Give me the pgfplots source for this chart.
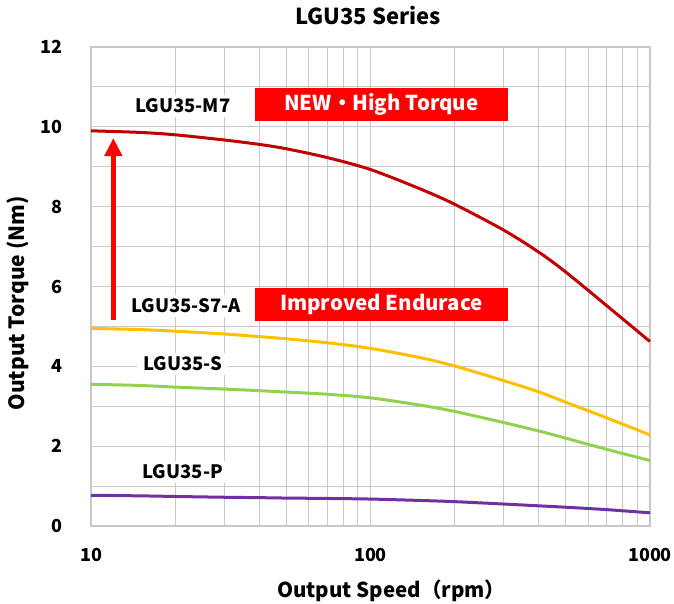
\documentclass[border=0pt]{standalone}
\usepackage{pgfplots}
\pgfplotsset{compat=1.18}
\usepackage{fontspec}
\setmainfont{Noto Sans CJK JP}
\usetikzlibrary{arrows.meta}
\definecolor{cM}{RGB}{192,0,0}
\definecolor{cS7}{RGB}{255,192,0}
\definecolor{cS}{RGB}{146,208,80}
\definecolor{cP}{RGB}{112,48,160}
\definecolor{gridc}{RGB}{200,200,200}
\begin{document}
\begin{tikzpicture}
\useasboundingbox (-91pt,-78pt) rectangle (583pt,526pt);
\begin{axis}[
  at={(0pt,0pt)}, anchor=south west,
  scale only axis, width=559pt, height=479pt,
  xmode=log, xmin=10, xmax=1000, ymin=0, ymax=12,
  xtick={10,100,1000}, xticklabels={10,100,1000},
  ytick={0,2,...,12}, minor y tick num=1,
  grid=both,
  major grid style={gridc, line width=1pt},
  minor grid style={gridc, line width=1pt},
  axis line style={gridc, line width=1.5pt},
  major tick length=0pt, minor tick length=0pt,
  /pgf/number format/assume math mode=true,
  ticklabel style={font=\bfseries\fontsize{18}{20}\selectfont},
  xticklabel style={anchor=center, yshift=-29pt},
  yticklabel style={anchor=east, inner xsep=0pt, xshift=-28pt},
  log ticks with fixed point,
  title={LGU35 Series},
  title style={font=\bfseries\fontsize{22}{24}\selectfont, at={(axis description cs:0.4955,1.054)}, anchor=center},
  xlabel={Output Speed（rpm）},
  xlabel style={font=\bfseries\fontsize{20.5}{22}\selectfont, at={(axis description cs:0.537,-0.1357)}, anchor=center},
  ylabel={Output Torque (Nm)},
  ylabel style={font=\bfseries\fontsize{21}{22}\selectfont, at={(axis description cs:-0.1306,0.465)}, anchor=center},
  clip=false,
  every axis plot/.append style={line width=3pt, smooth, no markers},
]
\addplot[cP] coordinates {(10,0.77) (15,0.755) (20,0.74) (30,0.72) (40,0.71) (50,0.70) (70,0.69) (100,0.675) (150,0.64) (200,0.61) (300,0.55) (400,0.505) (500,0.47) (700,0.41) (1000,0.33)};
\addplot[cS] coordinates {(10,3.55) (15,3.52) (20,3.48) (30,3.43) (40,3.39) (50,3.355) (70,3.30) (100,3.21) (150,3.03) (200,2.87) (300,2.59) (400,2.38) (500,2.20) (700,1.92) (1000,1.64)};
\addplot[cS7] coordinates {(10,4.95) (15,4.92) (20,4.88) (30,4.81) (40,4.745) (50,4.69) (70,4.59) (100,4.45) (150,4.22) (200,4.01) (300,3.64) (400,3.36) (500,3.10) (700,2.71) (1000,2.28)};
\addplot[cM] coordinates {(10,9.9) (15,9.86) (20,9.8) (30,9.67) (40,9.56) (50,9.45) (70,9.23) (100,8.93) (150,8.45) (200,8.06) (300,7.41) (400,6.86) (500,6.36) (700,5.52) (1000,4.62)};
\draw[-{Triangle[width=17pt,length=18pt]}, red, line width=4.5pt] (axis cs:12.02,5.16) -- (axis cs:12.02,9.72);
\tikzset{lbl/.style={fill=white, inner xsep=6pt, inner ysep=4pt, font=\bfseries\fontsize{18.5}{20}\selectfont}}
\tikzset{rbox/.style={fill=red, text=white, minimum width=253pt, minimum height=33pt, inner sep=0pt, font=\bfseries\fontsize{20.5}{22}\selectfont}}
\node[lbl] at (axis cs:21.3,10.52) {LGU35-M7};
\node[lbl] at (axis cs:21.9,5.51) {LGU35-S7-A};
\node[lbl] at (axis cs:21.3,4.06) {LGU35-S};
\node[lbl] at (axis cs:21.3,1.35) {LGU35-P};
\node[rbox] at (axis cs:109.4,10.56) {NEW・High Torque};
\node[rbox] at (axis cs:109.4,5.56) {Improved Endurace};
\end{axis}
\end{tikzpicture}
\end{document}
